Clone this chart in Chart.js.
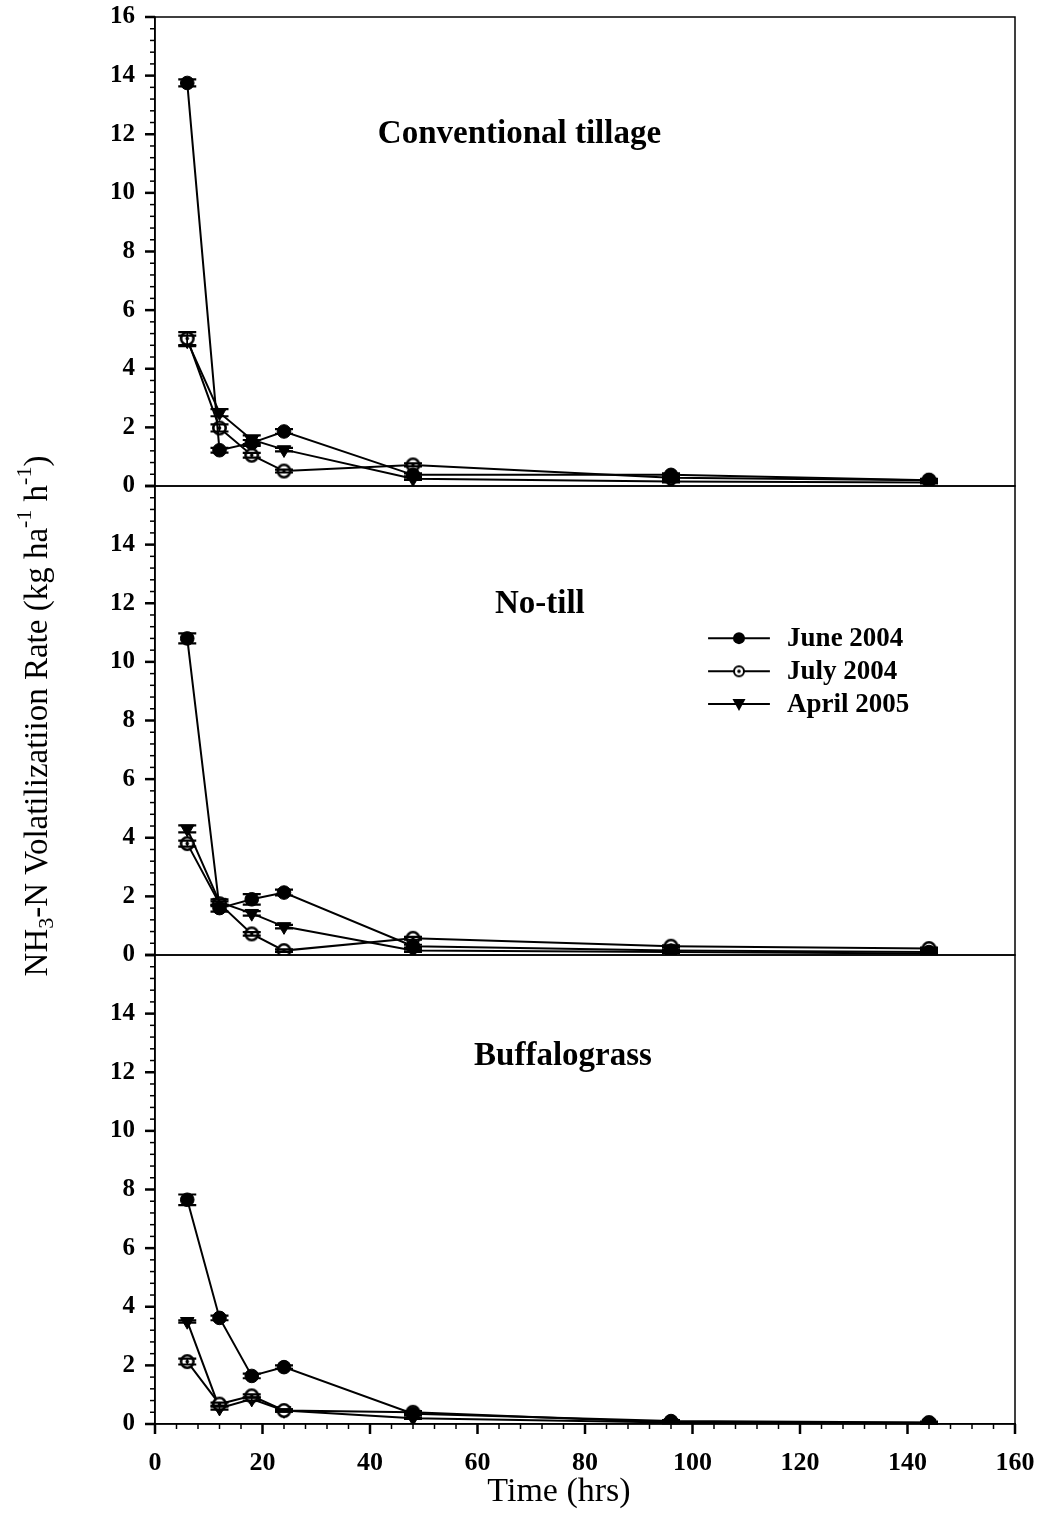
<!DOCTYPE html>
<html>
<head>
<meta charset="utf-8">
<script src="https://cdn.jsdelivr.net/npm/chart.js@4.4.1/dist/chart.umd.min.js"></script>
<style>
  body { margin: 0; background: #fff; }
  #wrap { width: 1042px; height: 1519px; }
</style>
</head>
<body>
<div id="wrap"><canvas id="chart" width="1042" height="1519"></canvas></div>
<script>
// data
const hours = [6, 12, 18, 24, 48, 96, 144];
const seriesNames = ["June 2004", "July 2004", "April 2005"];
const panelTitles = ["Conventional tillage", "No-till", "Buffalograss"];
const xTicks = [0, 20, 40, 60, 80, 100, 120, 140, 160];
const yTicks = [0, 2, 4, 6, 8, 10, 12, 14, 16];

// conventional tillage
const ctJune = [13.75, 1.22, 1.47, 1.86, 0.38, 0.38, 0.2];
const ctJuly = [5.03, 1.98, 1.05, 0.51, 0.72, 0.28, 0.2];
const ctApril = [4.95, 2.5, 1.58, 1.24, 0.25, 0.15, 0.12];
const ctJuneErr = [0.12, 0.08, 0.1, 0.08, 0.05, 0.05, 0.04];
const ctJulyErr = [0.22, 0.12, 0.08, 0.05, 0.05, 0.04, 0.03];
const ctAprilErr = [0.18, 0.12, 0.15, 0.06, 0.04, 0.03, 0.03];

// no-till
const ntJune = [10.8, 1.6, 1.9, 2.13, 0.3, 0.15, 0.1];
const ntJuly = [3.8, 1.75, 0.72, 0.15, 0.57, 0.3, 0.22];
const ntApril = [4.3, 1.8, 1.42, 0.97, 0.15, 0.1, 0.05];
const ntJuneErr = [0.17, 0.12, 0.18, 0.1, 0.05, 0.04, 0.03];
const ntJulyErr = [0.1, 0.08, 0.06, 0.04, 0.05, 0.03, 0.03];
const ntAprilErr = [0.12, 0.1, 0.08, 0.06, 0.04, 0.03, 0.03];

// buffalograss
const bgJune = [7.65, 3.62, 1.64, 1.94, 0.35, 0.1, 0.05];
const bgJuly = [2.13, 0.68, 0.96, 0.46, 0.4, 0.05, 0.04];
const bgApril = [3.5, 0.54, 0.85, 0.46, 0.2, 0.05, 0.03];
const bgJuneErr = [0.18, 0.08, 0.08, 0.06, 0.04, 0.03, 0.03];
const bgJulyErr = [0.1, 0.05, 0.05, 0.04, 0.04, 0.02, 0.02];
const bgAprilErr = [0.04, 0.05, 0.05, 0.04, 0.03, 0.02, 0.02];

const panelIds = ["y1", "y2", "y3"];
const panelData = [
  [ctJune, ctJuly, ctApril],
  [ntJune, ntJuly, ntApril],
  [bgJune, bgJuly, bgApril],
];
const panelErr = [
  [ctJuneErr, ctJulyErr, ctAprilErr],
  [ntJuneErr, ntJulyErr, ntAprilErr],
  [bgJuneErr, bgJulyErr, bgAprilErr],
];

const FONT = "'Liberation Serif', 'Times New Roman', serif";
Chart.defaults.font.family = FONT;
Chart.defaults.color = "#000";

// open circle with a dot in the middle
function bullseye(r, lw) {
  const c = document.createElement("canvas");
  const s = Math.ceil(r * 2 + lw + 2);
  c.width = c.height = s;
  const g = c.getContext("2d");
  g.beginPath();
  g.arc(s / 2, s / 2, r, 0, Math.PI * 2);
  g.fillStyle = "#fff";
  g.fill();
  g.lineWidth = lw;
  g.strokeStyle = "#000";
  g.stroke();
  g.beginPath();
  g.arc(s / 2, s / 2, 1.8, 0, Math.PI * 2);
  g.fillStyle = "#000";
  g.fill();
  return c;
}
const julyMark = bullseye(6.2, 2.6);

const styles = [
  { pointStyle: "circle", pointRadius: 6.8, rotation: 0, bg: "#000" },
  { pointStyle: julyMark, pointRadius: 7, rotation: 0, bg: "#fff" },
  { pointStyle: "triangle", pointRadius: 7.8, rotation: 180, bg: "#000" },
];

const datasets = [];
panelIds.forEach((id, p) => {
  panelData[p].forEach((vals, s) => {
    datasets.push({
      label: seriesNames[s],
      yAxisID: id,
      xAxisID: "x",
      data: hours.map((h, i) => ({ x: h, y: vals[i] })),
      errors: panelErr[p][s],
      borderColor: "#000",
      borderWidth: 2,
      backgroundColor: styles[s].bg,
      pointBackgroundColor: styles[s].bg,
      pointBorderColor: "#000",
      pointBorderWidth: 1,
      pointStyle: styles[s].pointStyle,
      pointRadius: styles[s].pointRadius,
      pointRotation: styles[s].rotation,
      tension: 0,
      fill: false,
    });
  });
});

function isMajor(v, step) {
  return Math.abs(v / step - Math.round(v / step)) < 1e-6;
}

function yScale(id) {
  return {
    type: "linear",
    position: "left",
    stack: "panels",
    stackWeight: 1,
    min: 0,
    max: 16,
    grid: { display: true, drawOnChartArea: false, drawTicks: false },
    border: { display: true, color: "#000", width: 1.5 },
    ticks: {
      stepSize: 0.4,
      autoSkip: false,
      padding: 20,
      font: { size: 25, weight: "bold" },
      callback: function (v) {
        if (!isMajor(v, 2)) return "";
        const n = Math.round(v);
        if (!yTicks.includes(n) || (n === 16 && id !== "y1")) return "";
        return String(n);
      },
    },
    afterFit: (s) => {
      s.width = 155;
      s.paddingTop = 0;
      s.paddingBottom = 0;
    },
  };
}

// error bars, tick marks, panel frames, titles and legend
const decor = {
  id: "decor",
  afterDatasetsDraw(chart) {
    const ctx = chart.ctx;
    ctx.save();
    ctx.strokeStyle = "#000";
    chart.data.datasets.forEach((ds, i) => {
      const meta = chart.getDatasetMeta(i);
      const ys = chart.scales[ds.yAxisID];
      meta.data.forEach((pt, j) => {
        const v = ds.data[j].y, e = ds.errors[j];
        const hi = ys.getPixelForValue(v + e), lo = ys.getPixelForValue(Math.max(v - e, 0));
        ctx.lineWidth = 1.5;
        ctx.beginPath();
        ctx.moveTo(pt.x, hi); ctx.lineTo(pt.x, lo);
        ctx.stroke();
        ctx.lineWidth = 2.2;
        ctx.beginPath();
        ctx.moveTo(pt.x - 9, hi); ctx.lineTo(pt.x + 9, hi);
        ctx.moveTo(pt.x - 9, lo); ctx.lineTo(pt.x + 9, lo);
        ctx.stroke();
      });
    });
    ctx.restore();
  },
  afterDraw(chart) {
    const ctx = chart.ctx, area = chart.chartArea, xs = chart.scales.x;
    ctx.save();
    ctx.strokeStyle = "#000";
    ctx.fillStyle = "#000";

    // frames around each panel
    ctx.lineWidth = 1.5;
    panelIds.forEach((id) => {
      const s = chart.scales[id];
      ctx.strokeRect(area.left, s.top, area.right - area.left, s.bottom - s.top);
    });

    // y tick marks
    panelIds.forEach((id) => {
      const s = chart.scales[id];
      s.ticks.forEach((t) => {
        const y = s.getPixelForValue(t.value);
        const major = isMajor(t.value, 2);
        ctx.lineWidth = major ? 2.5 : 1.5;
        ctx.beginPath();
        ctx.moveTo(area.left - (major ? 10 : 5), y);
        ctx.lineTo(area.left, y);
        ctx.stroke();
      });
    });
    // x tick marks
    xs.ticks.forEach((t) => {
      const x = xs.getPixelForValue(t.value);
      const major = isMajor(t.value, 20);
      ctx.lineWidth = major ? 2.5 : 1.5;
      ctx.beginPath();
      ctx.moveTo(x, area.bottom);
      ctx.lineTo(x, area.bottom + (major ? 10 : 5));
      ctx.stroke();
    });

    // panel titles
    ctx.font = "bold 33px " + FONT;
    ctx.textAlign = "center";
    ctx.textBaseline = "middle";
    const titlePos = [[67.8, 12.0], [71.6, 11.95], [75.9, 12.55]];
    panelIds.forEach((id, p) => {
      const s = chart.scales[id];
      ctx.fillText(panelTitles[p], xs.getPixelForValue(titlePos[p][0]), s.getPixelForValue(titlePos[p][1]));
    });

    // legend inside the middle panel
    const lx = xs.getPixelForValue(102.9), rx = xs.getPixelForValue(114.4), tx = xs.getPixelForValue(117.6);
    const ys2 = chart.scales.y2;
    const rows = [10.81, 9.68, 8.56];
    ctx.font = "bold 27px " + FONT;
    ctx.textAlign = "left";
    rows.forEach((rv, s) => {
      const y = ys2.getPixelForValue(rv);
      const cx = (lx + rx) / 2;
      ctx.lineWidth = 2;
      ctx.beginPath();
      ctx.moveTo(lx, y); ctx.lineTo(rx, y);
      ctx.stroke();
      if (s === 0) {
        ctx.beginPath(); ctx.arc(cx, y, 6, 0, Math.PI * 2); ctx.fill();
      } else if (s === 1) {
        const m = bullseye(5, 2);
        ctx.drawImage(m, cx - m.width / 2, y - m.height / 2);
      } else {
        ctx.beginPath();
        ctx.moveTo(cx - 6.5, y - 5); ctx.lineTo(cx + 6.5, y - 5); ctx.lineTo(cx, y + 7);
        ctx.closePath(); ctx.fill();
      }
      ctx.fillText(seriesNames[s], tx, y + 1);
    });

    // x axis title
    ctx.font = "34px " + FONT;
    ctx.textAlign = "center";
    ctx.fillText("Time (hrs)", 559, 1492);

    // y axis title with sub/superscripts
    const parts = [
      ["NH", 0, 33], ["3", 9, 22], ["-N Volatilizatiion Rate (kg ha", 0, 33],
      ["-1", -13, 22], [" h", 0, 33], ["-1", -13, 22], [")", 0, 33],
    ];
    let total = 0;
    parts.forEach((p) => { ctx.font = p[2] + "px " + FONT; total += ctx.measureText(p[0]).width; });
    ctx.translate(38, 716);
    ctx.rotate(-Math.PI / 2);
    ctx.textAlign = "left";
    let cur = -total / 2;
    parts.forEach((p) => {
      ctx.font = p[2] + "px " + FONT;
      ctx.fillText(p[0], cur, p[1]);
      cur += ctx.measureText(p[0]).width;
    });
    ctx.restore();
  },
};

new Chart(document.getElementById("chart"), {
  type: "line",
  data: { datasets: datasets },
  options: {
    responsive: false,
    devicePixelRatio: 1,
    animation: false,
    events: [],
    layout: { padding: { top: 17, right: 27, left: 0, bottom: 0 } },
    plugins: { legend: { display: false }, tooltip: { enabled: false } },
    scales: {
      x: {
        type: "linear",
        position: "bottom",
        min: 0,
        max: 160,
        grid: { display: true, drawOnChartArea: false, drawTicks: false },
        border: { display: true, color: "#000", width: 1.5 },
        ticks: {
          stepSize: 4,
          autoSkip: false,
          maxRotation: 0,
          padding: 24,
          font: { size: 26, weight: "bold" },
          callback: (v) => (isMajor(v, 20) && xTicks.includes(Math.round(v)) ? String(Math.round(v)) : ""),
        },
        afterFit: (s) => {
          s.height = 95;
          s.paddingLeft = 0;
          s.paddingRight = 0;
        },
      },
      // stacked axes are laid out bottom-up, so the bottom panel comes first
      y3: yScale("y3"),
      y2: yScale("y2"),
      y1: yScale("y1"),
    },
  },
  plugins: [decor],
});
</script>
</body>
</html>
